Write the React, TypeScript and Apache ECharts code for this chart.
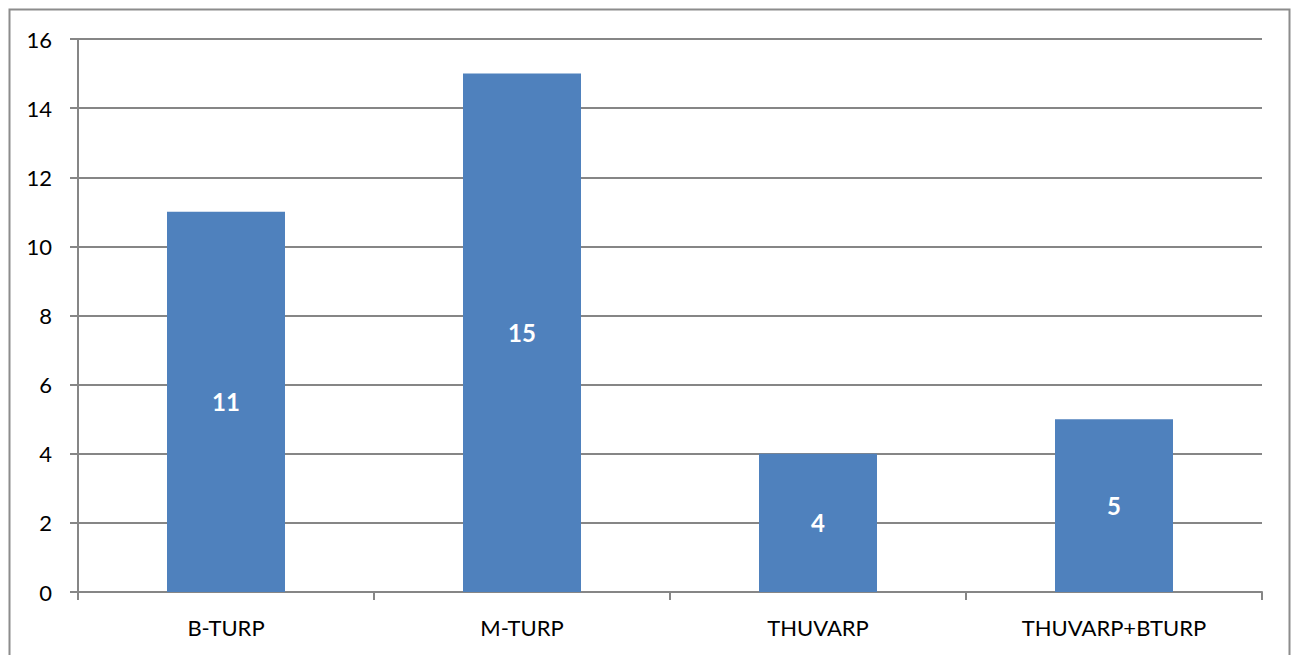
import React, { useEffect, useRef } from "react";
import * as echarts from "echarts";

const categories = ["B-TURP", "M-TURP", "THUVARP", "THUVARP+BTURP"];
const values = [11, 15, 4, 5];
const yMin = 0;
const yMax = 16;
const yInterval = 2;

export default function App() {
  const ref = useRef<HTMLDivElement>(null);
  useEffect(() => {
    if (!ref.current) return;
    const chart = echarts.init(ref.current, null, { renderer: "svg" });
    const font = "Lato, 'Noto Sans', sans-serif";
    chart.setOption({
      animation: false,
      backgroundColor: "#ffffff",
      graphic: [
        {
          type: "rect",
          shape: { x: 9.5, y: 9.5, width: 1280, height: 700 },
          style: { fill: "none", stroke: "#8c8c8c", lineWidth: 2 },
          silent: true,
        },
      ],
      grid: { left: 78, right: 33, top: 39, bottom: 63 },
      xAxis: {
        type: "category",
        data: categories,
        boundaryGap: true,
        axisLine: { show: true, lineStyle: { color: "#868686", width: 2 } },
        axisTick: { show: true, length: 8, lineStyle: { color: "#868686", width: 2 } },
        axisLabel: { color: "#000", fontSize: 22, fontFamily: font, margin: 24 },
        splitLine: { show: false },
      },
      yAxis: {
        type: "value",
        min: yMin,
        max: yMax,
        interval: yInterval,
        axisLine: { show: true, lineStyle: { color: "#868686", width: 2 } },
        axisTick: { show: true, length: 8, lineStyle: { color: "#868686", width: 2 } },
        axisLabel: { color: "#000", fontSize: 22, fontFamily: font, margin: 26 },
        splitLine: { show: true, lineStyle: { color: "#868686", width: 2 } },
      },
      series: [
        {
          type: "bar",
          data: values,
          barWidth: 118,
          itemStyle: { color: "#4F81BD" },
          label: {
            show: true,
            position: "inside",
            color: "#ffffff",
            fontSize: 24,
            fontWeight: "bold",
            fontFamily: font,
          },
        },
      ],
    });
    return () => chart.dispose();
  }, []);
  return (
    <div
      ref={ref}
      style={{ position: "fixed", left: 0, top: 0, width: 1295, height: 655 }}
    />
  );
}
